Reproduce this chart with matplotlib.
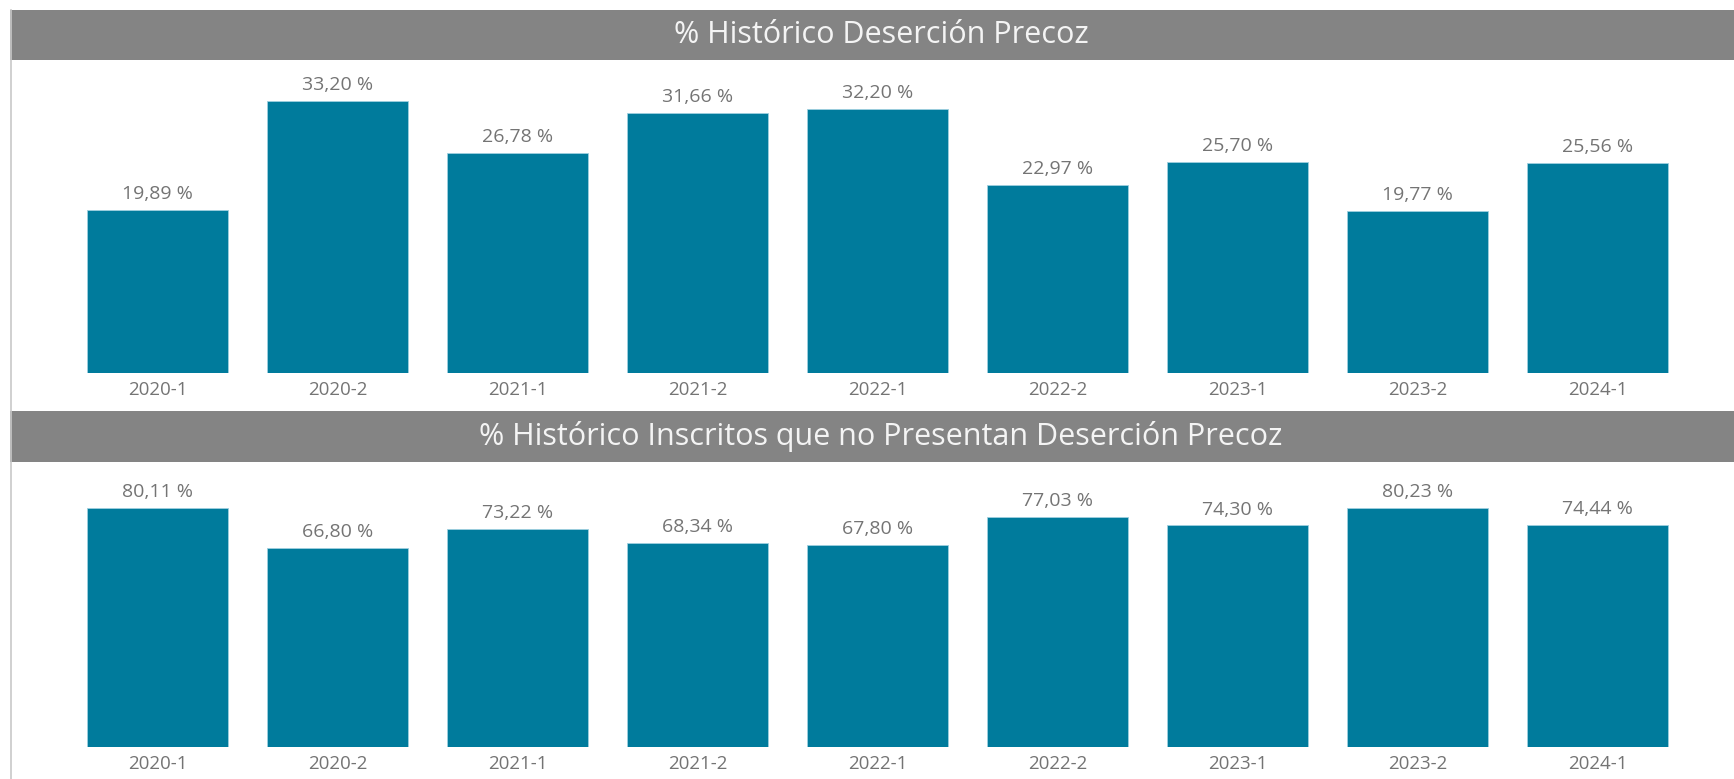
import matplotlib.pyplot as plt
from matplotlib.patches import Rectangle

periodos = ["2020-1", "2020-2", "2021-1", "2021-2", "2022-1",
            "2022-2", "2023-1", "2023-2", "2024-1"]
desercion = [19.89, 33.20, 26.78, 31.66, 32.20, 22.97, 25.70, 19.77, 25.56]
no_desercion = [80.11, 66.80, 73.22, 68.34, 67.80, 77.03, 74.30, 80.23, 74.44]

titulos = ["% Histórico Deserción Precoz",
           "% Histórico Inscritos que no Presentan Deserción Precoz"]

W, H = 1734, 779
BAR_COLOR = "#007B9C"
HEADER_COLOR = "#848484"
TEXT_GRAY = "#747474"

plt.rcParams["font.family"] = ["Open Sans", "DejaVu Sans"]

fig = plt.figure(figsize=(W / 100, H / 100), dpi=100)


def px_rect(x0, y0, x1, y1):
    # pixel box (origin top-left) -> figure fraction [l, b, w, h]
    return [x0 / W, 1 - y1 / H, (x1 - x0) / W, (y1 - y0) / H]


def fmt(v):
    return f"{v:.2f}".replace(".", ",") + " %"


# header bars: (top, bottom) in pixels
headers = [(10, 60), (411, 462)]
# axes: (top, baseline) in pixels, y max
paneles = [(65, 373, desercion, 37.56), (467, 747, no_desercion, 93.9)]

for (top, bot), titulo in zip(headers, titulos):
    l, b, w, h = px_rect(10, top, W, bot)
    fig.add_artist(Rectangle((l, b), w, h, transform=fig.transFigure,
                             facecolor=HEADER_COLOR, edgecolor="none"))
    fig.text(881 / W, b + h / 2, titulo, color="#f4f4f4", fontsize=22,
             ha="center", va="center")

# borde izquierdo
fig.add_artist(plt.Line2D([10.5 / W, 10.5 / W], [0, 1 - 10 / H],
                          transform=fig.transFigure, color="#c8c8c8", lw=1.2))

for top, base, valores, ymax in paneles:
    ax = fig.add_axes(px_rect(67.5, top, 1687.5, base))
    x = range(len(periodos))
    bars = ax.bar(x, valores, width=0.783, color=BAR_COLOR,
                  edgecolor="#9fd0df", linewidth=0.6)
    ax.set_xlim(-0.5, len(periodos) - 0.5)
    ax.set_ylim(0, ymax)
    for rect, v in zip(bars, valores):
        ax.annotate(fmt(v), (rect.get_x() + rect.get_width() / 2, v),
                    xytext=(0, 5), textcoords="offset points",
                    ha="center", va="bottom", fontsize=14, color=TEXT_GRAY)
    ax.set_xticks(list(x))
    ax.set_xticklabels(periodos, fontsize=13.5, color=TEXT_GRAY)
    ax.tick_params(axis="x", length=0, pad=5.5)
    ax.set_yticks([])
    for s in ax.spines.values():
        s.set_visible(False)
    ax.patch.set_alpha(0)

fig.savefig("out.png", dpi=100)
